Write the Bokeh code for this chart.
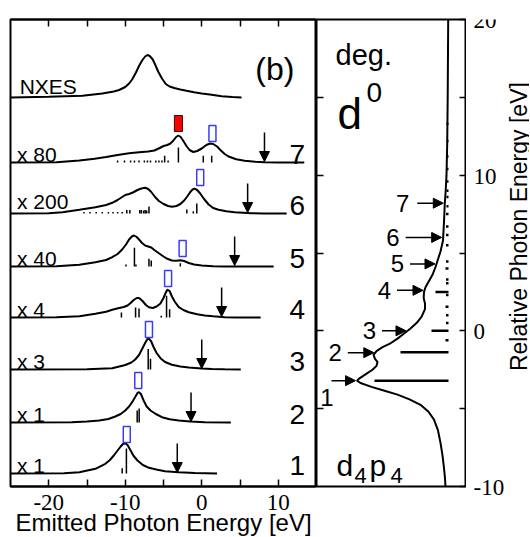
import math
import numpy as np
from bokeh.plotting import figure
from bokeh.models import (Range1d, FixedTicker, LinearAxis, ColumnDataSource,
                          Arrow, NormalHead)
from bokeh.layouts import row
from bokeh.embed import file_html
from bokeh.resources import INLINE
from bokeh.core.properties import value

# ---------------- left panel data: emitted photon energy [eV] vs intensity ----------------
nxes_e = [-25, -20, -15.6, -13, -11.5, -10.8, -10, -9.5, -9.1, -8.6, -8.2, -7.8, -7.4, -7.1,
          -6.8, -6.4, -6.1, -5.7, -5.2, -4.7, -4.2, -3.6, -2.8, -2.0, -1.0, 0, 1.3, 2.6, 4, 5.2]
nxes_i = [0, 0.7, 1.7, 4, 6, 7.5, 10.5, 14, 18, 25, 31.5, 37, 41, 42.5,
          41.5, 38, 33, 26, 19, 13.5, 11, 9.5, 8, 6.8, 5.2, 4, 2.7, 1.3, 0.5, 0]

s7_e = [-25, -19, -16, -14, -12.5, -11, -9.5, -8.2, -7, -6.2, -5.5, -5.0, -4.5, -4.1, -3.7,
        -3.35, -3.05, -2.75, -2.4, -2.0, -1.6, -1.1, -0.6, 0, 0.6, 1.1, 1.5, 2.0, 2.5, 3.0,
        3.5, 4.5, 5.6, 7, 8.2, 10, 13.4]
s7_i = [0, 0.3, 2, 3.7, 5.5, 7.5, 9.3, 10.3, 11, 12, 14.5, 16.5, 17.5, 19, 22,
        25.5, 27, 25.5, 21.5, 16.5, 12.5, 10.5, 11.5, 14, 17.5, 19, 18.5, 16, 12, 8.5,
        6, 3.2, 1.8, 0.8, 0.3, 0, 0]

s6_e = [-25, -20, -18.2, -16, -13.9, -12.5, -11.7, -11, -10.4, -10, -9.5, -9.0, -8.4, -7.9,
        -7.4, -7.0, -6.6, -6.1, -5.6, -5.0, -4.4, -3.9, -3.3, -2.8, -2.3, -1.9, -1.5, -1.2,
        -0.95, -0.6, -0.2, 0.3, 0.9, 1.5, 2.2, 3.2, 4.3, 6.5, 8, 11.1]
s6_i = [0, 0.3, 1.3, 3.7, 6.3, 8.5, 10.7, 13.5, 16.5, 18.5, 19.5, 21, 23.5, 25,
        25.7, 24.5, 21.5, 16.5, 12.5, 9.5, 7.5, 6.8, 7.5, 9.5, 13, 17, 21.5, 24,
        24.8, 23.5, 20, 14.5, 9, 5.5, 3.7, 2.2, 1.3, 0.3, 0, 0]

s5_e = [-25, -19, -16, -13.9, -12.5, -11.7, -11, -10.4, -9.9, -9.5, -9.1, -8.85, -8.5, -8.2,
        -7.8, -7.4, -7.0, -6.6, -6.2, -5.6, -5.0, -4.5, -3.9, -3.3, -2.8, -2.3, -1.7, -1.0,
        0, 1.5, 3, 9.4]
s5_i = [0, 0.3, 1.7, 4.3, 6.5, 9.3, 12.5, 17, 22, 27, 30.3, 31, 29.5, 27,
        23.5, 21, 20, 19, 16.5, 13.2, 10, 7.7, 6, 5.8, 6.3, 5.5, 3.5, 2,
        1, 0.3, 0, 0]

s4_e = [-25, -19, -16, -13.9, -12.5, -11.7, -10.8, -10.2, -9.7, -9.3, -8.9, -8.5, -8.2, -7.8,
        -7.3, -6.9, -6.4, -5.9, -5.4, -5.0, -4.7, -4.5, -4.2, -3.9, -3.5, -3.0, -2.4, -1.7,
        -0.6, 0.4, 1.5, 3, 4.5, 7.7]
s4_i = [0, 0.2, 1.3, 3.7, 5.8, 7.7, 9.5, 10.5, 12, 14.5, 17.5, 19.5, 19.5, 17,
        12.5, 10.3, 9.5, 11, 14, 19.5, 25, 27.8, 26.5, 21, 15.5, 10.3, 7.5, 5.3,
        3.2, 2, 1.2, 0.3, 0, 0]

s3_e = [-25, -15, -11.7, -10, -9.2, -8.7, -8.2, -7.8, -7.4, -7.1, -6.9, -6.6, -6.3, -5.9,
        -5.4, -4.8, -3.9, -2.8, -1.7, 0, 1.3, 3, 5.1]
s3_i = [0, 0.2, 1.3, 4.5, 7, 10, 14.5, 20.5, 26.5, 30.5, 30.8, 28, 22.5, 16.5,
        11.3, 7.5, 4.7, 3, 2, 1, 0.6, 0.2, 0]

s2_e = [-25, -17, -15, -13.4, -12.2, -11.3, -10.6, -10, -9.5, -9.1, -8.7, -8.4, -8.2, -7.95,
        -7.6, -7.2, -6.7, -6.0, -5.2, -4.2, -3.0, -1.5, 0.4, 3.8]
s2_i = [0, 0.3, 1, 2, 3.5, 6, 8.5, 12, 16, 20.3, 25.5, 29.5, 30.3, 28.5,
        22, 16, 12, 8.5, 5.3, 3.3, 2, 1, 0.3, 0]

s1_e = [-25, -18, -16, -13.9, -12.6, -12, -11.5, -11, -10.6, -10.3, -10.0, -9.7, -9.3, -8.9,
        -8.4, -7.7, -6.9, -5.8, -4.8, -3, -0.9, 2.0]
s1_i = [0, 0.3, 1.3, 4.7, 9.7, 13.5, 18, 23, 27, 29.5, 30.3, 28.5, 23, 17.5,
        13, 8.5, 5.7, 3.7, 2.3, 1.2, 0.6, 0]

# stick (line) spectra: position [eV], strength
k7_e = [-11.0, -10.1, -9.3, -8.8, -8.2, -7.5, -7.1, -6.7, -6.0, -5.6, -5.2, -4.85, -4.4,
        -3.05, 0.2, 1.3]
k7_i = [2, 2, 2, 2, 2, 2, 2, 2, 2, 2, 2, 6.7, 2, 15, 6.7, 6.7]
k6_e = [-15.4, -14.6, -13.8, -13.0, -12.2, -11.6, -11.0, -10.4, -9.8, -9.4, -8.1, -7.9,
        -7.6, -7.4, -7.2, -6.9, -1.95, -1.1, -0.65]
k6_i = [1.5, 1.5, 1.5, 1.5, 1.5, 1.5, 1.5, 1.5, 3.5, 3.5, 3.5, 3.5, 3, 3.5, 3, 7, 4, 2.3, 10]
k5_e = [-9.9, -8.8, -8.6, -6.9, -6.6, -2.8]
k5_i = [2, 18.7, 2, 7.7, 6, 3.3]
k4_e = [-10.5, -8.65, -8.2, -5.3, -4.6, -4.2]
k4_i = [5, 10, 9, 1.7, 21.7, 8.3]
k3_e = [-7.0, -6.7]
k3_i = [20.5, 10.7]
k2_e = [-8.44, -8.18]
k2_i = [12, 14]
k1_e = [-10.4, -9.85]
k1_i = [5.3, 25]

# excitation energies (relative photon energy [eV]) for spectra 1..7
exc_energy = [-3.2, -1.4, 0.0, 2.6, 4.3, 6.0, 8.2]
scale_labels = ["x 1", "x 1", "x 3", "x 4", "x 40", "x 200", "x 80"]
spec_numbers = ["1", "2", "3", "4", "5", "6", "7"]
marker_e = [-9.8, -8.3, -6.9, -4.4, -2.5, -0.2, 1.4]   # open blue marks
red_marker_e = [-3.05]                                # filled red mark (spectrum 7)

# ---------------- right panel data: relative photon energy [eV] vs absorption ----------------
abs_E = [20, 15, 12, 10, 9, 8.2, 7, 5.8, 5.1, 4.6, 4.1, 3.6, 3.2, 2.8, 2.5, 2.1, 1.75, 1.4,
         0.9, 0.5, 0.15, -0.2, -0.5, -0.8, -1.05, -1.3, -1.55, -1.8, -2.0, -2.25, -2.5, -2.8,
         -3.05, -3.2, -3.35, -3.6, -3.85, -4.1, -4.4, -4.75, -5.2, -5.7, -6.4, -7.2, -8.0,
         -8.7, -9.4, -10]
abs_I = [0.3, 0.8, 1.3, 2, 2.8, 3.7, 4.5, 5.5, 8, 10.5, 13, 16, 19.5, 23, 24.5, 24.8, 23.5, 23.5,
         27, 32, 38, 45, 51, 58, 66, 72, 75, 73.5, 71, 72, 76, 83,
         89, 91.5, 88, 77, 64, 51, 39, 28, 20, 14.5, 10.5, 8, 6,
         4.7, 3.6, 3]
abs_stick_E = [-3.2, -1.37, 0.0, 2.5, -0.6, 0.5, 1.0, 1.55, 2.3, 3.05, 3.3, 4.0, 4.45, 5.5,
               6.15, 6.7, 7.5, 8.0, 8.6, 9.0, 9.6, 10.4, 11.2, 12.2, 13.3]
abs_stick_I = [74, 48, 17, 13, 3, 2.5, 2.5, 3, 2.5, 2.5, 2.5, 3, 2.5, 2.5,
               2.5, 2.5, 2.5, 2, 2, 2, 2, 2, 2, 2, 2]

x_ticks = [-20, -15, -10, -5, 0, 5, 10]
x_tick_labels = ["-20", "", "-10", "", "0", "", "10"]
y_ticks = [-10, -5, 0, 5, 10, 15, 20]
y_label_values = [-10, 0, 10, 20]
y_label_texts = ["-10", "0", "10", "20"]
x_title = "Emitted Photon Energy [eV]"
y_title = "Relative Photon Energy [eV]"

# ---------------- layout constants ----------------
SANS = "Liberation Sans"
SERIF = "Liberation Serif"
BLUE = "#3a3aff"
TOP, FRAME_H, BOTTOM = 19, 467, 51
STRIP_SHIFT = 18          # the title strip is laid out this many px lower than the panels
E_MIN, E_MAX = -10, 20
offsets = [13, 64, 117, 169, 220, 273, 324]    # vertical stacking of spectra 1..7
nxes_offset = 389
marker_bottom = [31, 34, 32, 31, 10, 28, 21]
label_lift = [8, 8, 8, 8, 8, 12, 8]
spectra = [(s1_e, s1_i, k1_e, k1_i), (s2_e, s2_i, k2_e, k2_i), (s3_e, s3_i, k3_e, k3_i),
           (s4_e, s4_i, k4_e, k4_i), (s5_e, s5_i, k5_e, k5_i), (s6_e, s6_i, k6_e, k6_i),
           (s7_e, s7_i, k7_e, k7_i)]


def hidden_tick_axis(ticks):
    return LinearAxis(ticker=FixedTicker(ticks=ticks), major_label_text_font_size="0px",
                      major_label_text_color=None, major_label_standoff=0,
                      major_tick_in=7, major_tick_out=0, major_tick_line_width=1.5,
                      minor_tick_line_color=None)


# ================= left panel =================
p1 = figure(frame_width=306, frame_height=FRAME_H, x_range=Range1d(-25, 15),
            y_range=Range1d(0, FRAME_H), title=None,
            output_backend="svg", toolbar_location=None, y_axis_location=None,
            min_border_left=10, min_border_right=0, min_border_top=TOP, min_border_bottom=BOTTOM)
p1.grid.visible = False
p1.outline_line_color = "black"
p1.outline_line_width = 2
p1.outline_line_alpha = 1

xa = p1.xaxis[0]
xa.ticker = FixedTicker(ticks=x_ticks)
xa.major_label_overrides = dict(zip(x_ticks, x_tick_labels))
xa.major_tick_in = 7
xa.major_tick_out = 0
xa.major_tick_line_width = 1.5
xa.minor_tick_line_color = None
xa.axis_line_width = 2
xa.major_label_text_font = SERIF
xa.major_label_text_font_size = "23px"
xa.major_label_text_color = "black"
xa.major_label_standoff = 8
xa.axis_label = x_title
xa.axis_label_text_font = SANS
xa.axis_label_text_font_size = "24px"
xa.axis_label_text_font_style = "normal"
xa.axis_label_text_color = "black"
xa.axis_label_standoff = -4

ta = hidden_tick_axis(x_ticks)
ta.axis_line_width = 2
p1.add_layout(ta, "above")

# NXES
p1.line(nxes_e, np.array(nxes_i) + nxes_offset, line_color="black", line_width=2)
p1.text(x=[-23.8], y=[nxes_offset + 11], text=["NXES"], text_font=value(SANS),
        text_font_size="21px", text_align="left", text_baseline="alphabetic", text_color="black")

arrow_src = dict(x=[], y0=[], y1=[])
for k, (se, si, ke, ki) in enumerate(spectra):
    base = offsets[k]
    p1.line(se, np.array(si) + base, line_color="black", line_width=2)
    p1.segment(x0=ke, y0=[base] * len(ke), x1=ke, y1=np.array(ki) + base,
               line_color="black", line_width=1.5)
    arrow_src["x"].append(exc_energy[k])
    arrow_src["y0"].append(base + 30)
    arrow_src["y1"].append(base + 1)
    p1.rect(x=[marker_e[k]], y=[base + marker_bottom[k] + 8], width=7, height=16,
            width_units="screen", fill_color=None, line_color=BLUE, line_width=1.5)
    p1.text(x=[-24.15], y=[base + label_lift[k]], text=[scale_labels[k]], text_font=value(SANS),
            text_font_size="21px", text_align="left", text_baseline="alphabetic", text_color="black")
    p1.text(x=[12.5], y=[base + 8], text=[spec_numbers[k]], text_font=value(SANS),
            text_font_size="28px", text_align="center", text_baseline="alphabetic", text_color="black")

p1.rect(x=red_marker_e, y=[offsets[6] + 31 + 8], width=8, height=16, width_units="screen",
        fill_color="#ff0000", line_color="#400000", line_width=1)

p1.add_layout(Arrow(end=NormalHead(size=10, fill_color="black", line_color="black", line_width=1),
                    x_start="x", y_start="y0", x_end="x", y_end="y1",
                    source=ColumnDataSource(arrow_src), line_width=1.5, line_color="black"))

p1.text(x=[7.0], y=[418], text=["(b)"], text_font=value(SANS), text_font_size="32px",
        text_align="left", text_baseline="alphabetic", text_color="black")

# ================= right panel =================
p2 = figure(frame_width=150, frame_height=FRAME_H, x_range=Range1d(132, -18),
            y_range=Range1d(E_MIN, E_MAX), title=None,
            output_backend="svg", toolbar_location=None, x_axis_location=None,
            y_axis_location=None,
            min_border_left=0, min_border_right=0, min_border_top=TOP, min_border_bottom=BOTTOM)
p2.grid.visible = False
p2.outline_line_color = "black"
p2.outline_line_width = 2
p2.outline_line_alpha = 1

la = hidden_tick_axis([-5, 0, 5, 10, 15])
la.axis_line_color = None
p2.add_layout(la, "left")
ra = hidden_tick_axis(y_ticks)
ra.axis_line_width = 2
p2.add_layout(ra, "right")

p2.line(abs_I, abs_E, line_color="black", line_width=2)
p2.segment(x0=[0] * len(abs_stick_E), y0=abs_stick_E, x1=abs_stick_I, y1=abs_stick_E,
           line_color="black", line_width=2.5)

tips = np.interp(exc_energy, abs_E[::-1], abs_I[::-1]) + 1.5
arrow_len = np.array([24, 26, 24, 26, 25, 36, 26])
tails = tips + arrow_len
p2.add_layout(Arrow(end=NormalHead(size=10, fill_color="black", line_color="black", line_width=1),
                    x_start="xs", y_start="y", x_end="xe", y_end="y",
                    source=ColumnDataSource(dict(xs=tails, xe=tips, y=exc_energy)),
                    line_width=1.5, line_color="black"))
lab_dx = np.array([-2, 6, 6, 6, 6, 6, 8])
lab_dy = np.array([-1.1, 0, 0, 0, 0, 0, 0])
p2.text(x=tails + lab_dx, y=np.array(exc_energy) + lab_dy, text=spec_numbers,
        text_font=value(SANS), text_font_size="24px", text_align="right",
        text_baseline="middle", text_color="black")

p2.text(x=[113], y=[17.73], text=["deg."], text_font=value(SANS), text_font_size="29px",
        text_align="left", text_baseline="alphabetic", text_color="black")
p2.text(x=[111], y=[13.96], text=["d"], text_font=value(SANS), text_font_size="44px",
        text_align="left", text_baseline="alphabetic", text_color="black")
p2.text(x=[82], y=[15.3], text=["0"], text_font=value(SANS), text_font_size="28px",
        text_align="left", text_baseline="alphabetic", text_color="black")
p2.text(x=[112, 79], y=[-8.65, -8.65], text=["d", "p"], text_font=value(SANS),
        text_font_size="30px", text_align="left", text_baseline="alphabetic", text_color="black")
p2.text(x=[94, 58], y=[-9.29, -9.29], text=["4", "4"], text_font=value(SANS),
        text_font_size="22px", text_align="left", text_baseline="alphabetic", text_color="black")

# ================= right-hand tick labels and axis title strip =================
e_per_px = (E_MAX - E_MIN) / FRAME_H
p3 = figure(frame_width=63, frame_height=TOP + FRAME_H + BOTTOM, x_range=Range1d(0, 63),
            y_range=Range1d(E_MIN - (BOTTOM + STRIP_SHIFT) * e_per_px,
                            E_MAX + (TOP - STRIP_SHIFT) * e_per_px), title=None,
            output_backend="svg", toolbar_location=None, x_axis_location=None,
            y_axis_location=None, min_border_left=0, min_border_right=0,
            min_border_top=0, min_border_bottom=0)
p3.grid.visible = False
p3.outline_line_color = None
p3.text(x=[7] * len(y_label_values), y=y_label_values, text=y_label_texts,
        text_font=value(SERIF), text_font_size="23px", text_align="left",
        text_baseline="middle", text_color="black")
p3.text(x=[52], y=[6.76], text=[y_title], text_font=value(SANS), text_font_size="23px",
        text_align="center", text_baseline="alphabetic", angle=math.pi / 2, text_color="black")

layout = row(p1, p2, p3)
with open("out.html", "w") as f:
    f.write(file_html(layout, INLINE))
